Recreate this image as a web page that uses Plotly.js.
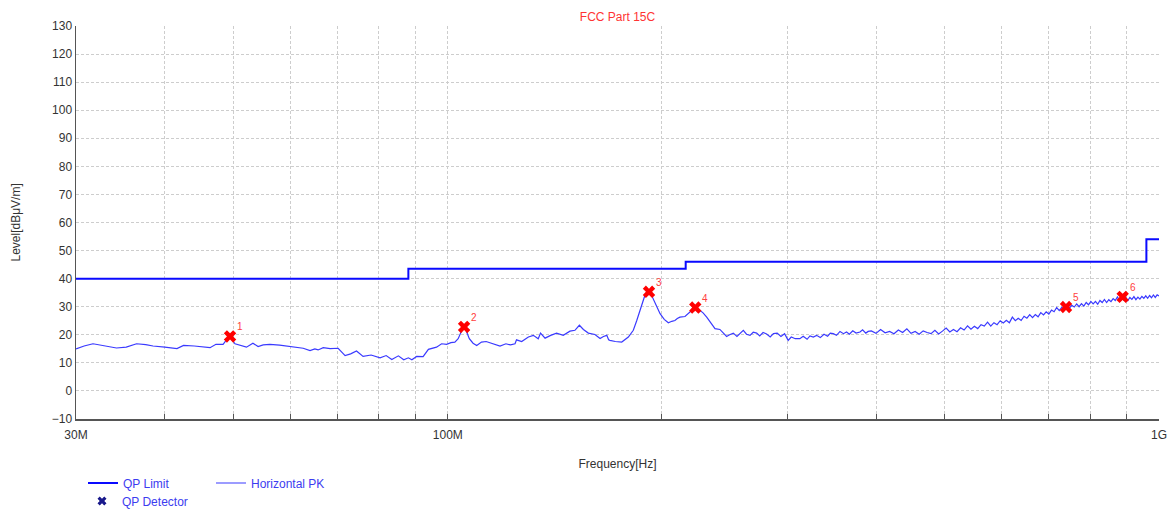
<!DOCTYPE html>
<html>
<head>
<meta charset="utf-8">
<script src="https://cdn.plot.ly/plotly-3.0.1.min.js"></script>
<style>html,body{margin:0;padding:0;background:#fff;}#chart{width:1174px;height:511px;}</style>
</head>
<body>
<div id="chart"></div>
<script>
// QP limit (MHz, dBuV/m)
const limitFreqMHz = [30, 88, 88, 216, 216, 960, 960, 1000];
const limitLevel   = [40, 40, 43.5, 43.5, 46, 46, 54, 54];

// Horizontal PK sweep (MHz, dBuV/m)
const pkFreqMHz = [30.0,30.8,31.7,32.8,34.2,35.3,36.5,37.6,38.5,40.0,41.6,42.5,44.0,46.3,47.2,48.3,49.3,50.2,51.0,52.1,53.2,54.1,55.0,56.2,58.0,60.0,61.5,62.6,64.0,65.0,65.7,66.8,68.3,70.1,71.7,73.0,74.4,76.0,78.0,80.3,81.9,83.4,85.2,86.7,88.0,89.0,90.4,92.3,93.9,96.4,98.0,99.6,101.0,102.3,103.4,105.4,107.2,108.5,109.8,111.5,113.2,115.5,118.4,120.7,122.5,124.3,124.9,127.0,129.8,131.9,134.0,135.0,137.0,139.5,142.2,145.3,148.5,150.9,153.1,155.1,157.6,161.0,163.7,165.5,167.3,168.3,169.0,172.0,175.6,179.4,182.3,184.3,186.3,189.3,192.4,195.6,198.8,201.5,204.2,206.5,208.6,210.2,212.0,215.5,219.0,223.0,226.2,228.5,231.2,234.0,237.5,241.3,244.0,246.6,249.0,252.0,255.0,257.5,260.3,263.0,266.0,268.8,271.8,274.5,277.5,280.7,284.0,287.0,290.5,294.0,297.5,301.0,304.0,308.0,312.6,316.0,320.0,323.0,326.5,330.0,334.0,338.0,342.0,345.0,348.3,352.0,356.0,360.0,363.6,367.0,371.0,375.0,379.8,383.0,387.0,390.0,394,400,406,412,418,424,430,436,442,448,454,460,466,472,478,484,490,496,502,508,514,520,526,532,538,544,550,556,562,568,574,580,586,592,598,604,610,616,622,628,634,640,646,652,658,664,670,676,682,688,694,700,706,712,718,724,730,736,742,748,754,760,766,772,778,784,790,796,802,808,814,820,826,832,838,844,850,856,862,868,874,880,886,892,898,904,910,916,922,928,934,940,946,952,958,964,970,976,982,988,994,1000];
const pkLevel = [15.0,16.0,16.8,16.2,15.3,15.6,16.8,16.5,16.0,15.6,15.1,16.2,16.0,15.4,16.6,16.6,19.6,16.8,16.4,15.6,17.0,15.8,16.4,16.6,16.3,15.8,15.6,15.2,14.4,15.0,14.6,15.4,15.1,15.2,12.6,13.2,14.2,12.3,12.8,11.8,12.6,11.2,12.5,11.1,11.8,11.1,12.3,12.2,14.8,15.6,16.8,16.6,17.2,17.4,18.6,23.4,18.6,17.0,16.2,17.4,17.6,17.0,16.0,16.8,16.4,16.8,18.2,17.6,19.2,19.8,18.6,20.6,18.8,19.8,20.6,19.8,21.3,21.6,23.4,21.9,20.6,20.1,18.7,19.4,19.8,18.2,18.0,17.6,17.4,19.2,21.6,25.0,28.7,34.1,35.3,31.1,27.5,25.5,24.3,24.8,25.1,25.8,26.3,26.5,28.1,29.9,28.7,27.8,26.3,24.5,22.2,21.9,20.5,19.4,20.0,20.6,19.4,20.4,21.6,20.2,19.8,20.9,20.6,19.6,20.8,20.3,19.2,20.4,20.6,19.4,20.4,18.0,19.2,18.6,18.6,19.5,18.4,19.6,19.2,19.8,19.0,20.2,19.5,20.6,20.4,19.8,21.2,20.4,21.0,20.2,21.4,20.6,21.0,21.8,20.6,21.2,21.4,20.5,21.9,20.7,21.2,20.4,21.7,20.8,22.1,20.5,21.2,20.2,21.4,20.8,20.4,21.6,20.3,21.3,22.4,21.0,21.9,21.1,22.5,21.7,23.2,22.0,23.0,22.2,23.6,23.1,24.5,23.1,24.3,23.6,25.0,24.2,25.2,24.3,26.3,25.0,25.9,25.1,26.6,25.9,27.2,26.1,27.2,26.4,27.9,27.1,28.2,27.4,28.8,28.2,29.7,28.6,29.8,29.0,31.0,29.5,30.5,29.9,31.0,30.0,31.1,30.2,31.5,30.7,31.9,31.0,31.9,30.9,32.2,31.5,32.6,31.5,32.5,31.8,32.9,32.2,33.5,32.2,33.4,32.4,33.3,32.2,33.3,32.6,33.6,32.5,33.4,32.7,33.7,33.0,33.9,33.0,34.0,33.2,34.2,33.3,34.2,33.8];

// QP detector results
const detFreqMHz = [49.4, 105.4, 191.8, 222.8, 740, 889];
const detLevel   = [19.4, 22.8, 35.3, 29.7, 29.9, 33.5];
const detLabels  = ['1', '2', '3', '4', '5', '6'];

// Axis ticks
const xTickVals = [30,40,50,60,70,80,90,100,200,300,400,500,600,700,800,900,1000];
const xTickText = ['30M','','','','','','','100M','','','','','','','','','1G'];

const FONT = 'Liberation Sans, Arial, sans-serif';
const LEG_COLOR = '#3c3cf0';

const traces = [
  {
    x: limitFreqMHz, y: limitLevel, type: 'scatter', mode: 'lines',
    name: 'QP Limit', line: {color: '#0a0aff', width: 2},
    legend: 'legend'
  },
  {
    x: pkFreqMHz, y: pkLevel, type: 'scatter', mode: 'lines',
    name: 'Horizontal PK', line: {color: '#3a3aff', width: 1.2},
    legend: 'legend2'
  },
  {
    x: detFreqMHz, y: detLevel, type: 'scatter', mode: 'markers',
    name: 'QP Detector', showlegend: false,
    marker: {symbol: 'x', size: 11, color: '#ff0000', line: {width: 0}}
  },
  {
    x: [null], y: [null], type: 'scatter', mode: 'markers',
    name: 'QP Detector', legend: 'legend3',
    marker: {symbol: 'x', size: 8, color: '#1a1a8c', line: {width: 0}}
  }
];

const annotations = detFreqMHz.map((f, i) => ({
  x: Math.log10(f), y: detLevel[i], xref: 'x', yref: 'y',
  text: detLabels[i], showarrow: false, xanchor: 'left', yanchor: 'bottom',
  xshift: 5, yshift: 2,
  font: {family: FONT, size: 10, color: '#ff4040'}
}));
annotations.push({
  xref: 'paper', yref: 'paper', x: (15 - 76) / 1083, y: 0.5,
  xanchor: 'center', yanchor: 'middle', textangle: -90, showarrow: false,
  text: 'Level[dBμV/m]', font: {family: FONT, size: 12, color: '#333'}
});

const legendBase = {
  xref: 'container', yref: 'container', xanchor: 'left', yanchor: 'middle',
  bgcolor: 'rgba(0,0,0,0)', borderwidth: 0,
  font: {family: FONT, size: 12, color: LEG_COLOR}
};

const layout = {
  width: 1174, height: 511,
  margin: {l: 76, r: 15, t: 26, b: 92, autoexpand: false},
  paper_bgcolor: '#fff', plot_bgcolor: '#fff',
  font: {family: FONT, size: 12, color: '#333'},
  title: {
    text: 'FCC Part 15C', x: 0.526, xanchor: 'center', y: 0.967, yanchor: 'middle',
    font: {family: FONT, size: 12, color: '#ff3333'}
  },
  xaxis: {
    type: 'log', range: [Math.log10(30), 3],
    tickvals: xTickVals, ticktext: xTickText,
    ticks: 'inside', ticklen: 5, tickcolor: '#555',
    ticklabelstandoff: 4,
    showgrid: true, gridcolor: '#cdcdcd', griddash: '3px,2px', gridwidth: 1,
    showline: true, linecolor: '#555', linewidth: 1.5,
    zeroline: false,
    tickfont: {family: FONT, size: 12, color: '#333'},
    title: {text: 'Frequency[Hz]', standoff: 18, font: {family: FONT, size: 12, color: '#333'}}
  },
  yaxis: {
    range: [-10, 130], dtick: 10, tick0: 0,
    showgrid: true, gridcolor: '#cdcdcd', griddash: '3px,2px', gridwidth: 1,
    showline: true, linecolor: '#555', linewidth: 1.5,
    zeroline: false, ticks: '',
    tickfont: {family: FONT, size: 12, color: '#333'}
  },
  annotations: annotations,
  showlegend: true,
  legend: Object.assign({}, legendBase, {x: 83/1174, y: 1 - 483/511}),
  legend2: Object.assign({}, legendBase, {x: 211/1174, y: 1 - 483/511}),
  legend3: Object.assign({}, legendBase, {x: 82/1174, y: 1 - 501/511})
};

Plotly.newPlot('chart', traces, layout, {displayModeBar: false, staticPlot: true});
</script>
</body>
</html>
